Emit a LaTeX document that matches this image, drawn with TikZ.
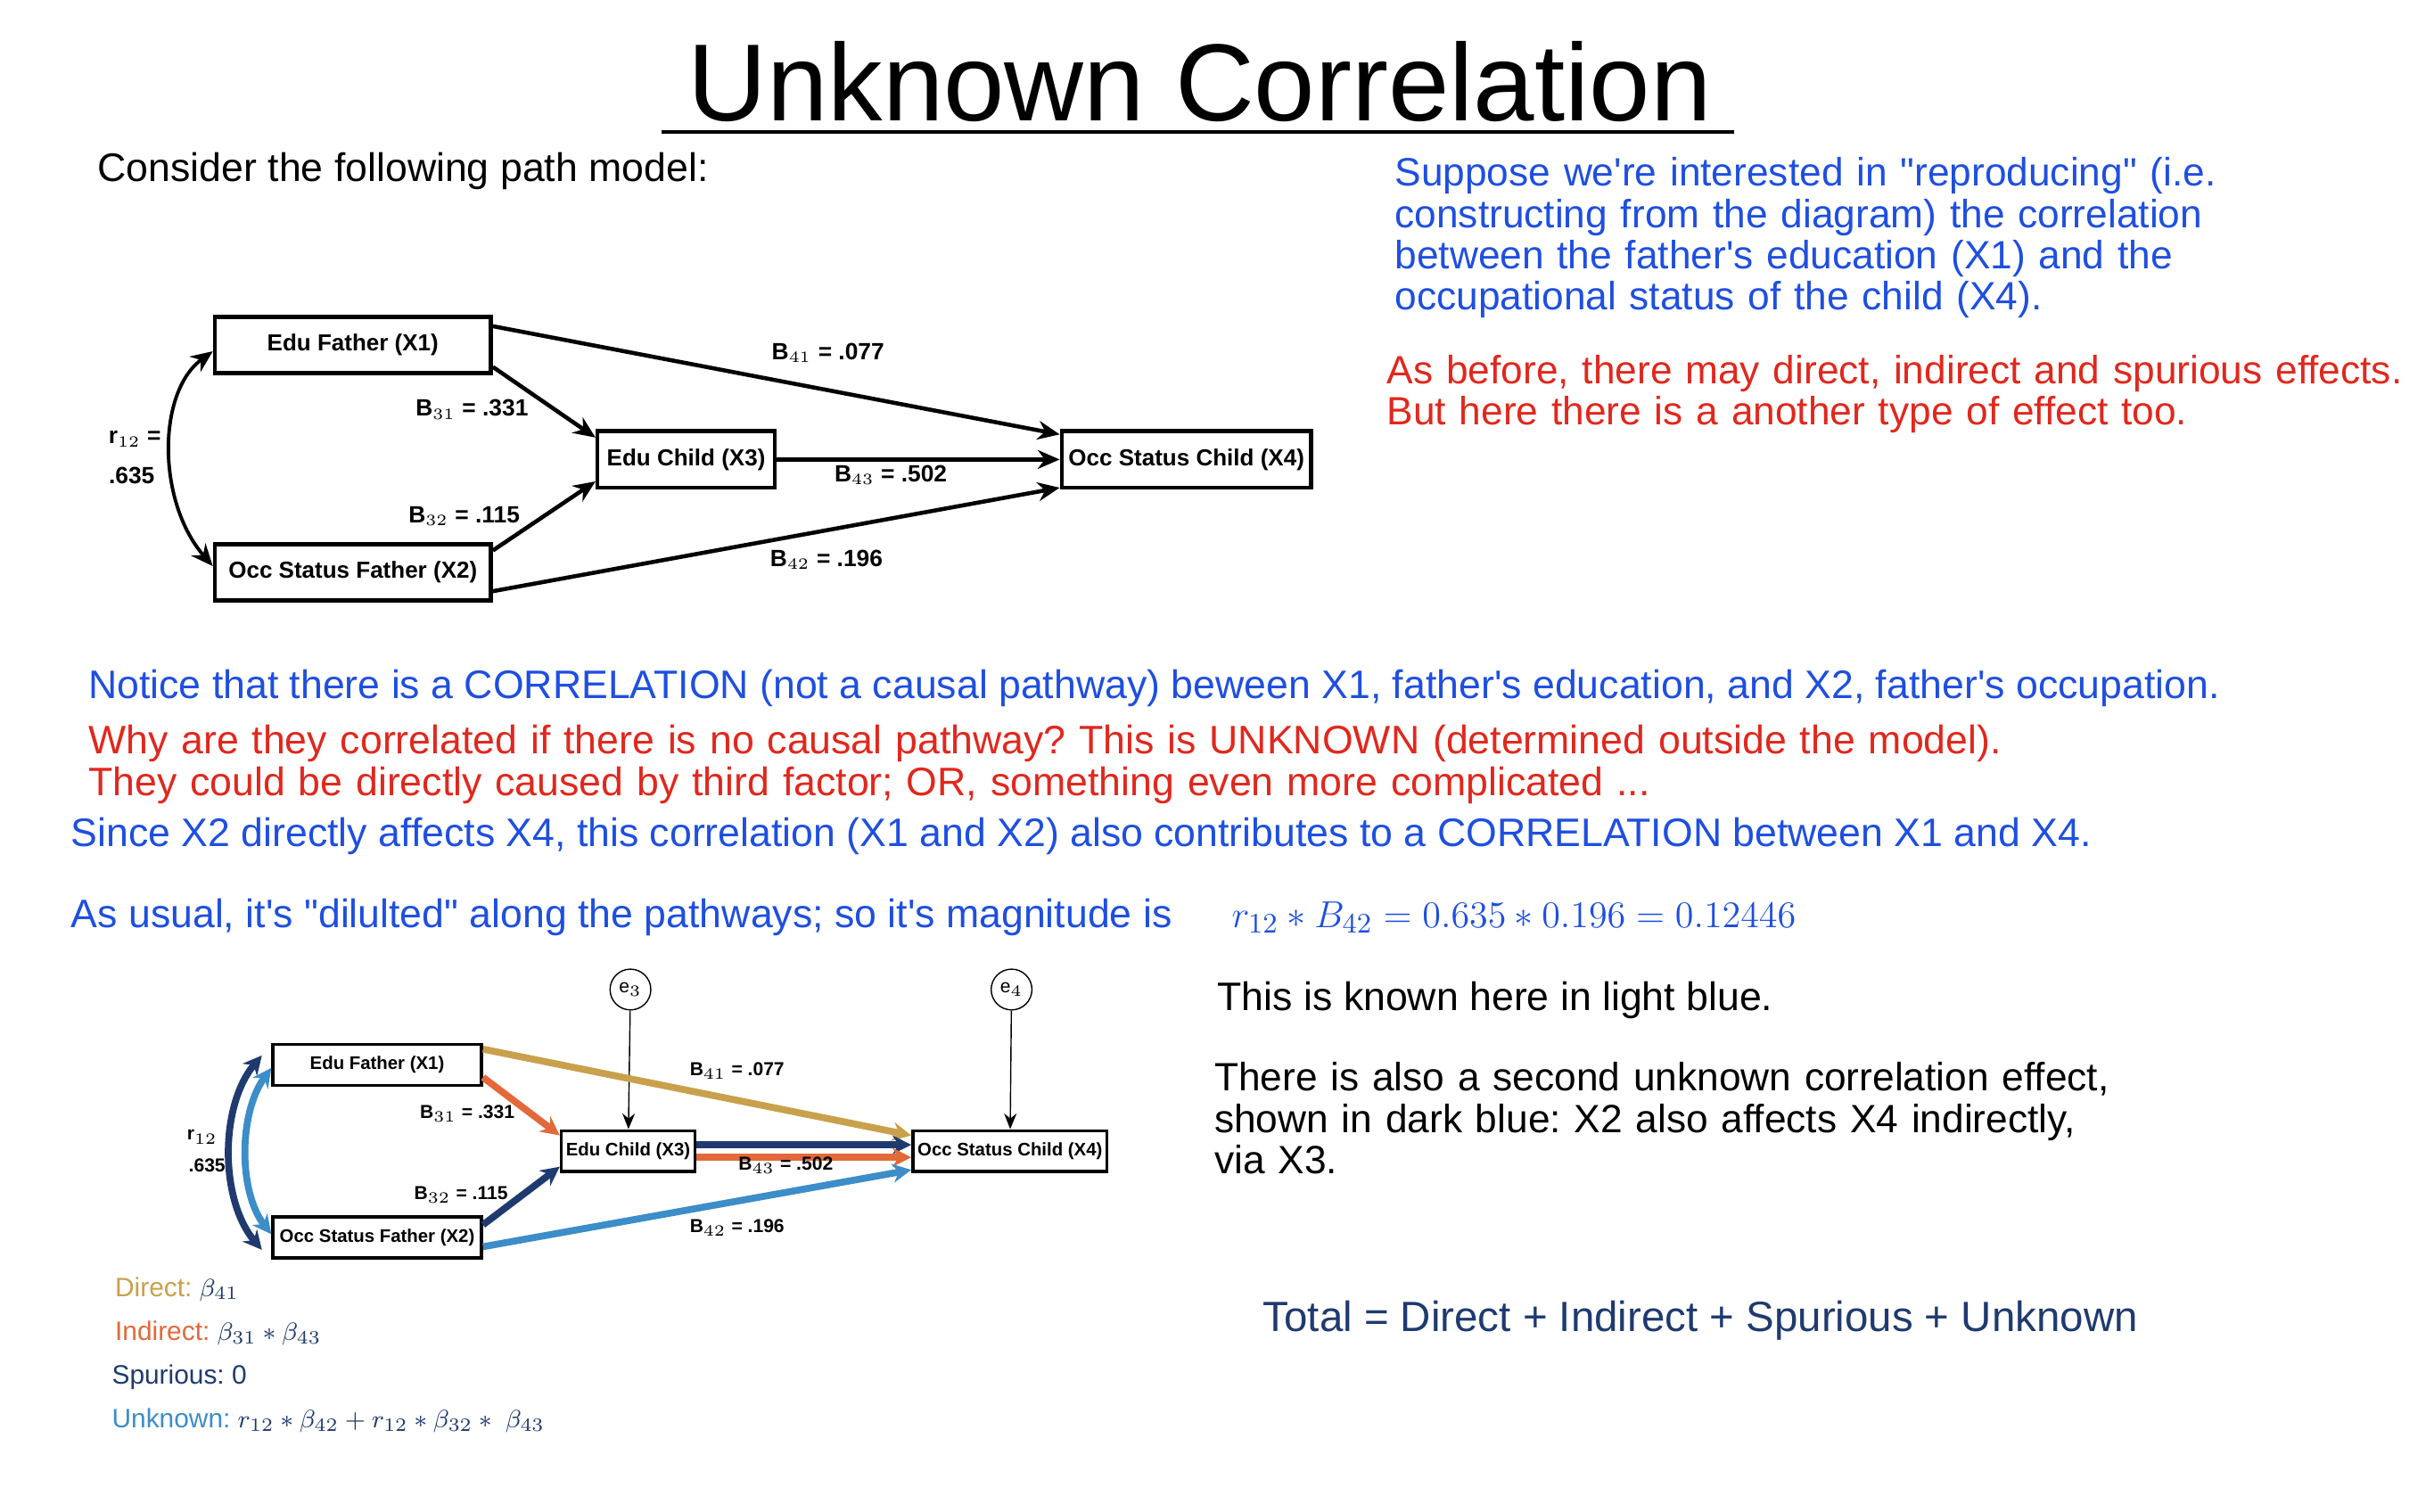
\documentclass[tikz,border=0pt]{standalone}
\usepackage{fontspec}
\setmainfont{Liberation Sans}[Ligatures=TeXOff]
\usepackage{amsmath}
\usetikzlibrary{positioning,calc,arrows.meta}
\definecolor{txtblue}{HTML}{1F4FE0}
\definecolor{txtred}{HTML}{E0281E}
\definecolor{navy}{HTML}{1F3A6E}
\definecolor{gold}{HTML}{C9A04B}
\definecolor{rust}{HTML}{E2693A}
\definecolor{sky}{HTML}{3C8DC8}
\frenchspacing
\tikzset{
  var/.style={draw,line width=1.3pt,font=\bfseries\fontsize{7.4}{9}\selectfont,inner sep=2pt},
  smallvar/.style={draw,line width=1pt,font=\bfseries\fontsize{5.8}{7}\selectfont,inner sep=1.5pt},
  coef/.style={font=\bfseries\fontsize{7.5}{8}\selectfont},
  smallcoef/.style={font=\bfseries\fontsize{6}{7}\selectfont},
  path/.style={-{Stealth[length=7pt,width=6pt]},line width=1.3pt},
  cpath/.style={-{Stealth[length=6pt,width=6pt]},line width=2.2pt},
  para/.style={anchor=west,font=\fontsize{12.7}{14}\selectfont,inner sep=0pt},
}
\begin{document}
\begin{tikzpicture}[x=0.1759mm,y=-0.1759mm]
\useasboundingbox (0,0) rectangle (1552,964);

% titre
\node (title) at (765,52) {\fontsize{35}{38}\selectfont Unknown Correlation};
\draw[line width=1.2pt] (422,84) -- (1106,84);
\node[para] (consider) at (62,109) {Consider the following path model:};

% modele du haut
\node[var,minimum width=176*0.1759mm,minimum height=36*0.1759mm] (x1) at (225,220) {Edu Father (X1)};
\node[var,minimum width=176*0.1759mm,minimum height=36*0.1759mm] (x2) at (225,365) {Occ Status Father (X2)};
\node[var,minimum width=113*0.1759mm,minimum height=36*0.1759mm] (x3) at (437.5,293) {Edu Child (X3)};
\node[var,minimum width=159*0.1759mm,minimum height=36*0.1759mm] (x4) at (756.5,293) {Occ Status Child (X4)};
\draw[path] ([yshift=6pt]x1.east) -- ([yshift=8pt]x4.west);
\draw[path] ([yshift=-7pt]x1.east) -- ([yshift=7pt]x3.west);
\draw[path] (x3) -- (x4);
\draw[path] ([yshift=7pt]x2.east) -- ([yshift=-7pt]x3.west);
\draw[path] ([yshift=-6pt]x2.east) -- ([yshift=-9pt]x4.west);
\draw[{Stealth[length=7pt,width=6pt]}-{Stealth[length=7pt,width=6pt]},line width=1.1pt]
  ([yshift=-2pt]x1.west) .. controls (100,250) and (100,320) .. ([yshift=2pt]x2.west);
\node[coef] (r12a) at (86,280) {r$_{12}$ =};
\node[coef] (r12b) at (84,303) {.635};
\node[coef] (b41) at (528,225) {B$_{41}$ = .077};
\node[coef] (b31) at (301,261) {B$_{31}$ = .331};
\node[coef] (b43) at (568,303) {B$_{43}$ = .502};
\node[coef] (b32) at (296,329) {B$_{32}$ = .115};
\node[coef] (b42) at (527,357) {B$_{42}$ = .196};

% textes de droite
\node[para,text=txtblue,align=left,text width=13cm,font=\fontsize{12.6}{13.2}\selectfont,anchor=north west] (suppose) at (889,100)
  {Suppose we're interested in "reproducing" (i.e.\\constructing from the diagram) the correlation\\between the father's education (X1) and the\\occupational status of the child (X4).};
\node[para,text=txtred,align=left,text width=13cm,font=\fontsize{12.6}{13.2}\selectfont,anchor=north west] (before) at (884,226)
  {As before, there may direct, indirect and spurious effects.\\But here there is a another type of effect too.};

% textes du milieu
\node[para,text=txtblue] (notice) at (56,439) {Notice that there is a CORRELATION (not a causal pathway) beween X1, father's education, and X2, father's occupation.};
\node[para,text=txtred,align=left,text width=24cm,font=\fontsize{12.7}{13.2}\selectfont,anchor=north west] (why) at (56,462)
  {Why are they correlated if there is no causal pathway? This is UNKNOWN (determined outside the model).\\They could be directly caused by third factor; OR, something even more complicated ...};
\node[para,text=txtblue] (since) at (45,533) {Since X2 directly affects X4, this correlation (X1 and X2) also contributes to a CORRELATION between X1 and X4.};
\node[para,text=txtblue] (usual) at (45,585) {As usual, it's "dilulted" along the pathways; so it's magnitude is};
\node[para,text=txtblue,font=\fontsize{13}{14}\selectfont] (formula) at (785,585) {$r_{12}*B_{42}=0.635*0.196=0.12446$};

% modele du bas
\node[smallvar,minimum width=133*0.1759mm,minimum height=26*0.1759mm] (y1) at (240.5,679) {Edu Father (X1)};
\node[smallvar,minimum width=133*0.1759mm,minimum height=26*0.1759mm] (y2) at (240.5,789) {Occ Status Father (X2)};
\node[smallvar,minimum width=85*0.1759mm,minimum height=26*0.1759mm] (y3) at (400.5,734) {Edu Child (X3)};
\node[smallvar,minimum width=122*0.1759mm,minimum height=26*0.1759mm] (y4) at (644,734) {Occ Status Child (X4)};
\node[draw,circle,minimum size=26*0.1759mm,inner sep=0pt,font=\fontsize{6}{7}\selectfont] (e3) at (402,631) {e$_3$};
\node[draw,circle,minimum size=26*0.1759mm,inner sep=0pt,font=\fontsize{6}{7}\selectfont] (e4) at (645,631) {e$_4$};
\draw[-{Stealth[length=5pt,width=4pt]},thin] (e3) -- (y3);
\draw[-{Stealth[length=5pt,width=4pt]},thin] (e4) -- (y4);
\draw[cpath,gold] ([yshift=5pt]y1.east) -- ([yshift=5pt]y4.west);
\draw[cpath,rust] ([yshift=-4pt]y1.east) -- ([yshift=5pt]y3.west);
\draw[cpath,navy] ([yshift=2pt]y3.east) -- ([yshift=2pt]y4.west);
\draw[cpath,rust] ([yshift=-2pt]y3.east) -- ([yshift=-2pt]y4.west);
\draw[cpath,navy] ([yshift=4pt]y2.east) -- ([yshift=-5pt]y3.west);
\draw[cpath,sky] ([yshift=-3pt]y2.east) -- ([yshift=-6pt]y4.west);
\draw[{Stealth[length=6pt,width=6pt]}-{Stealth[length=6pt,width=6pt]},line width=2.2pt,navy]
  ([xshift=-3pt,yshift=3pt]y1.west) .. controls (140,705) and (140,765) .. ([xshift=-3pt,yshift=-4pt]y2.west);
\draw[{Stealth[length=6pt,width=6pt]}-{Stealth[length=6pt,width=6pt]},line width=2.2pt,sky]
  ([yshift=-1pt]y1.west) .. controls (152,710) and (152,760) .. ([yshift=1pt]y2.west);
\node[smallcoef] (c12a) at (129,725) {r$_{12}$};
\node[smallcoef] (c12b) at (132,743) {.635};
\node[smallcoef] (c41) at (470,683) {B$_{41}$ = .077};
\node[smallcoef] (c31) at (298,710) {B$_{31}$ = .331};
\node[smallcoef] (c43) at (501,743) {B$_{43}$ = .502};
\node[smallcoef] (c32) at (294,762) {B$_{32}$ = .115};
\node[smallcoef] (c42) at (470,783) {B$_{42}$ = .196};

% legende
\node[para,font=\fontsize{8.5}{10}\selectfont,text=gold] (direct) at (73,822) {Direct: \textcolor{navy}{$\beta_{41}$}};
\node[para,font=\fontsize{8.5}{10}\selectfont,text=rust] (indirect) at (73,850) {Indirect: \textcolor{navy}{$\beta_{31}*\beta_{43}$}};
\node[para,font=\fontsize{8.5}{10}\selectfont,text=navy] (spurious) at (71,878) {Spurious: 0};
\node[para,font=\fontsize{8.5}{10}\selectfont,text=sky] (unknown) at (71,906) {Unknown: \textcolor{navy}{$r_{12}*\beta_{42}+r_{12}*\beta_{32}*\ \beta_{43}$}};

% textes en bas a droite
\node[para] (known) at (776,638) {This is known here in light blue.};
\node[para,align=left,text width=13cm,font=\fontsize{12.6}{13.2}\selectfont,anchor=north west] (second) at (774,677)
  {There is also a second unknown correlation effect,\\shown in dark blue: X2 also affects X4 indirectly,\\via X3.};
\node[para,text=navy,font=\fontsize{13.5}{15}\selectfont] (total) at (805,842) {Total = Direct + Indirect + Spurious + Unknown};
\end{tikzpicture}
\end{document}
